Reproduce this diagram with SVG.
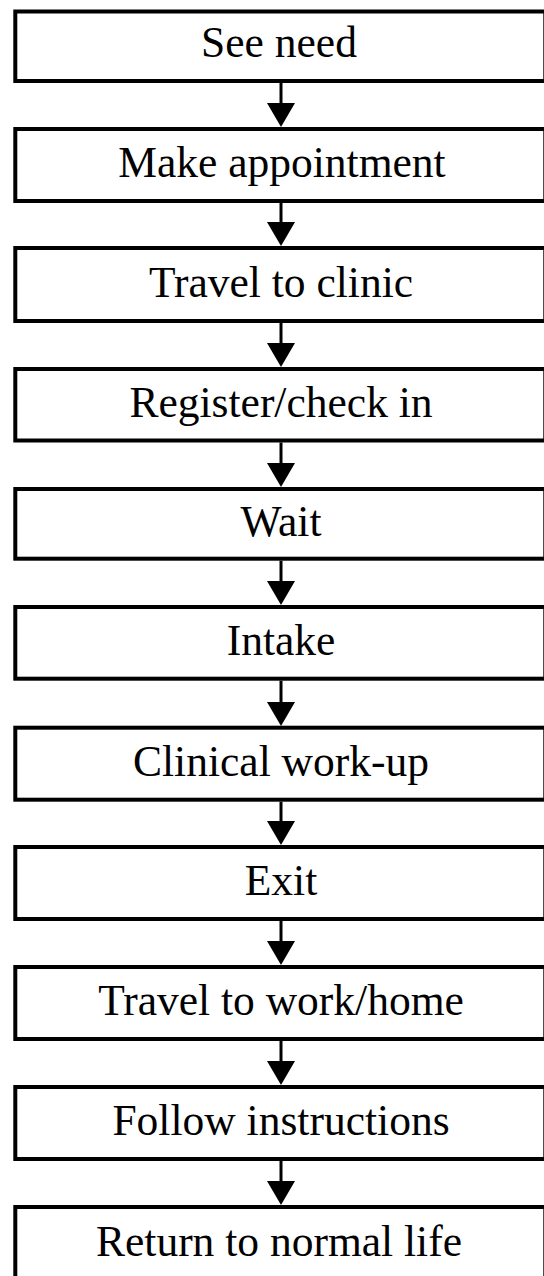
<svg xmlns="http://www.w3.org/2000/svg" width="544" height="1276" viewBox="0 0 544 1276">
  <style>
    .box { fill: #fff; stroke: #000; stroke-width: 4; }
    .label { font-family: "Liberation Serif", "Times New Roman", serif; font-size: 43.5px; fill: #000; text-anchor: middle; }
    .shaft { stroke: #000; stroke-width: 3; fill: none; }
    .head { fill: #000; stroke: none; }
  </style>
  <rect width="544" height="1276" fill="#fff"/>

  <!-- process steps -->
  <g id="see-need"><rect class="box" x="15.3" y="11.5" width="530" height="69.5"/><text class="label" x="279" y="57">See need</text></g>
  <g id="make-appointment"><rect class="box" x="15.3" y="129" width="530" height="72"/><text class="label" x="282" y="177">Make appointment</text></g>
  <g id="travel-to-clinic"><rect class="box" x="15.3" y="248" width="530" height="73"/><text class="label" x="281" y="296.5">Travel to clinic</text></g>
  <g id="register"><rect class="box" x="15.3" y="369" width="530" height="71.5"/><text class="label" x="281" y="416.5">Register/check in</text></g>
  <g id="wait"><rect class="box" x="15.3" y="489" width="530" height="69.7"/><text class="label" x="281" y="535.5">Wait</text></g>
  <g id="intake"><rect class="box" x="15.3" y="607" width="530" height="71.7"/><text class="label" x="281" y="654.5">Intake</text></g>
  <g id="clinical-work-up"><rect class="box" x="15.3" y="727.7" width="530" height="72"/><text class="label" x="281" y="775.5">Clinical work-up</text></g>
  <g id="exit"><rect class="box" x="15.3" y="847" width="530" height="72"/><text class="label" x="281" y="895">Exit</text></g>
  <g id="travel-home"><rect class="box" x="15.3" y="967" width="530" height="72"/><text class="label" x="281" y="1015">Travel to work/home</text></g>
  <g id="follow-instructions"><rect class="box" x="15.3" y="1087" width="530" height="72"/><text class="label" x="281" y="1135">Follow instructions</text></g>
  <g id="return-to-normal-life"><rect class="box" x="15.3" y="1207" width="530" height="72"/><text class="label" x="279" y="1256">Return to normal life</text></g>

  <!-- connectors: shaft from box bottom, filled head ending on next box top -->
  <g id="connectors">
    <line class="shaft" x1="281" y1="83" x2="281" y2="105"/><polygon class="head" points="267,103 295,103 281,127"/>
    <line class="shaft" x1="281" y1="203" x2="281" y2="224"/><polygon class="head" points="267,222 295,222 281,246"/>
    <line class="shaft" x1="281" y1="323" x2="281" y2="345"/><polygon class="head" points="267,343 295,343 281,367"/>
    <line class="shaft" x1="281" y1="442.5" x2="281" y2="465"/><polygon class="head" points="267,463 295,463 281,487"/>
    <line class="shaft" x1="281" y1="560.7" x2="281" y2="583"/><polygon class="head" points="267,581 295,581 281,605"/>
    <line class="shaft" x1="281" y1="680.7" x2="281" y2="704"/><polygon class="head" points="267,702 295,702 281,726"/>
    <line class="shaft" x1="281" y1="801.7" x2="281" y2="823"/><polygon class="head" points="267,821 295,821 281,845"/>
    <line class="shaft" x1="281" y1="921" x2="281" y2="943"/><polygon class="head" points="267,941 295,941 281,965"/>
    <line class="shaft" x1="281" y1="1041" x2="281" y2="1063"/><polygon class="head" points="267,1061 295,1061 281,1085"/>
    <line class="shaft" x1="281" y1="1161" x2="281" y2="1183"/><polygon class="head" points="267,1181 295,1181 281,1205"/>
  </g>
</svg>
